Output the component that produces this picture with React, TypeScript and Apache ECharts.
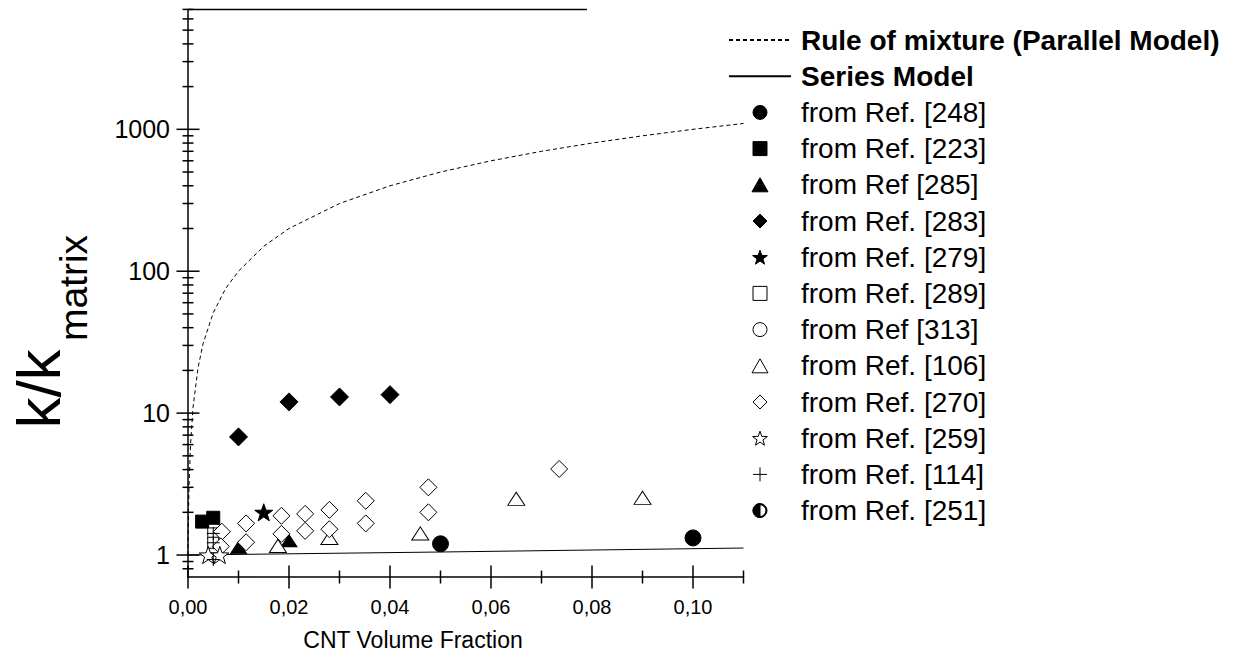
import React, { useEffect, useRef } from 'react';
import * as echarts from 'echarts';

// ---- axis ranges and ticks ----
const xMin = 0;
const xMax = 0.11;
const yMin = 0.7;
const yMax = 7000;
const xMajorTicks = [0, 0.02, 0.04, 0.06, 0.08, 0.1];
const xMinorTicks = [0.01, 0.03, 0.05, 0.07, 0.09, 0.11];
const yMajorTicks = [1, 10, 100, 1000];
const yMinorTicks = [
  0.8, 0.9,
  2, 3, 4, 5, 6, 7, 8, 9,
  20, 30, 40, 50, 60, 70, 80, 90,
  200, 300, 400, 500, 600, 700, 800, 900,
  2000, 3000, 4000, 5000, 6000, 7000,
];

// ---- model curves ----
const parallelModel = [
  [0, 1], [0.0001, 2], [0.0002, 3], [0.0005, 6], [0.001, 11], [0.002, 21], [0.003, 31],
  [0.005, 51], [0.0075, 76], [0.01, 100], [0.015, 150], [0.02, 200], [0.03, 300],
  [0.04, 400], [0.05, 500], [0.06, 600], [0.07, 700], [0.08, 800], [0.09, 900],
  [0.1, 1000], [0.11, 1100],
];
const seriesModel = [[0, 1], [0.05, 1.05], [0.11, 1.12]];
const topLine = [[0, 7000], [0.079, 7000]];

// ---- experimental data ----
const ref248 = [[0.05, 1.2], [0.1, 1.32]];
const ref223 = [[0.0028, 1.72], [0.005, 1.83]];
const ref285 = [[0.01, 1.13], [0.02, 1.26]];
const ref283 = [[0.01, 6.8], [0.02, 12], [0.03, 13], [0.04, 13.5]];
const ref279 = [[0.015, 2.0]];
const ref289 = [[0.005, 1.42], [0.005, 1.22]];
const ref313: number[][] = [];
const ref106 = [[0.0178, 1.16], [0.028, 1.32], [0.046, 1.42], [0.065, 2.49], [0.09, 2.53]];
const ref270 = [
  [0.0067, 1.46], [0.0065, 1.15], [0.0115, 1.67], [0.0115, 1.23], [0.0185, 1.89],
  [0.0185, 1.41], [0.0232, 1.95], [0.0232, 1.48], [0.028, 2.08], [0.028, 1.52],
  [0.0352, 2.41], [0.0352, 1.67], [0.0476, 3.0], [0.0476, 2.0], [0.0735, 4.04],
];
const ref259 = [[0.004, 1.0], [0.0063, 1.0]];
const ref114 = [[0.005, 1.42], [0.005, 1.22], [0.005, 0.93]];
const ref251: number[][] = [];

const legendNames = [
  'Rule of mixture (Parallel Model)',
  'Series Model',
  'from Ref. [248]',
  'from Ref. [223]',
  'from Ref [285]',
  'from Ref. [283]',
  'from Ref. [279]',
  'from Ref. [289]',
  'from Ref [313]',
  'from Ref. [106]',
  'from Ref. [270]',
  'from Ref. [259]',
  'from Ref. [114]',
  'from Ref. [251]',
];

const FONT = '"Liberation Sans", Arial, sans-serif';

function starPath(): string {
  const pts: string[] = [];
  for (let i = 0; i < 10; i++) {
    const r = i % 2 === 0 ? 10 : 4;
    const a = -Math.PI / 2 + (i * Math.PI) / 5;
    pts.push(`${(10 + r * Math.cos(a)).toFixed(3)},${(10 + r * Math.sin(a)).toFixed(3)}`);
  }
  return 'path://M' + pts.join('L') + 'Z';
}
const STAR = starPath();
const PLUS = 'path://M0,5L10,5M5,0L5,10';
const RECT = 'path://M0,0L10,0L10,10L0,10Z';
const TRI = 'path://M0,14L8,0L16,14Z';
const DIAM = 'path://M5,0L10,5L5,10L0,5Z';
const CIRC = 'path://M10,0A10,10 0 1,1 10,20A10,10 0 1,1 10,0Z';
const HALF =
  'path://M10,0A10,10 0 1,1 10,20A10,10 0 1,1 10,0Z' +
  'M10,1.6A8.4,8.4 0 1,0 10,18.4A8.4,8.4 0 1,0 10,1.6Z' +
  'M10,20A10,10 0 0,1 10,0Z';

function tickSeries(data: number[][], horizontal: boolean, half: number) {
  return {
    type: 'custom',
    clip: false,
    silent: true,
    z: 5,
    data,
    renderItem: (_p: any, api: any) => {
      const c = api.coord([api.value(0), api.value(1)]);
      const shape = horizontal
        ? { x1: c[0] - half, y1: c[1], x2: c[0] + half, y2: c[1] }
        : { x1: c[0], y1: c[1] - half, x2: c[0], y2: c[1] + half };
      return { type: 'line', shape, style: { stroke: '#000', lineWidth: 1.5 } };
    },
  };
}

function scatter(name: string, data: number[][], symbol: string, size: any, filled: boolean) {
  return {
    name,
    type: 'scatter',
    data,
    symbol,
    symbolSize: size,
    symbolKeepAspect: true,
    clip: false,
    itemStyle: {
      color: filled ? '#000' : '#fff',
      borderColor: '#000',
      borderWidth: 1,
      opacity: 1,
    },
    z: 3,
  };
}

export default function App() {
  const ref = useRef<HTMLDivElement>(null);
  useEffect(() => {
    if (!ref.current) return;
    const chart = echarts.init(ref.current, undefined, { renderer: 'svg' });
    const isMajorY = (v: number) => yMajorTicks.some((t) => Math.abs(Math.log10(v) - Math.log10(t)) < 1e-6);
    const isMajorX = (v: number) => xMajorTicks.some((t) => Math.abs(v - t) < 1e-9);
    const option: any = {
      animation: false,
      backgroundColor: '#fff',
      grid: { left: 188, top: 9.4, width: 555.5, height: 567.6, containLabel: false },
      xAxis: {
        type: 'value',
        min: xMin,
        max: xMax,
        interval: 0.02,
        axisLine: { show: true, onZero: false, lineStyle: { color: '#000', width: 1.5 } },
        axisTick: { show: false },
        splitLine: { show: false },
        axisLabel: {
          margin: 20,
          color: '#000',
          fontFamily: FONT,
          fontSize: 20,
          showMaxLabel: false,
          formatter: (v: number) => (isMajorX(v) ? v.toFixed(2).replace('.', ',') : ''),
        },
      },
      yAxis: {
        type: 'log',
        logBase: 10,
        min: yMin,
        max: yMax,
        axisLine: { show: true, onZero: false, lineStyle: { color: '#000', width: 1.5 } },
        axisTick: { show: false },
        splitLine: { show: false },
        axisLabel: {
          margin: 18,
          color: '#000',
          fontFamily: FONT,
          fontSize: 25,
          formatter: (v: number) => (isMajorY(v) ? String(Math.round(v)) : ''),
        },
      },
      legend: {
        orient: 'vertical',
        left: 723,
        top: 21,
        itemWidth: 62,
        itemHeight: 14,
        itemGap: 8.2,
        symbolKeepAspect: true,
        textStyle: { fontFamily: FONT, fontSize: 28, color: '#000', padding: [0, 0, 0, 5] },
        itemStyle: { borderWidth: 1 },
        data: legendNames.map((n, i) =>
          i < 2
            ? {
                name: n,
                textStyle: { fontWeight: 'bold' },
                itemStyle: { opacity: 0, color: 'transparent', borderColor: 'transparent', borderWidth: 0 },
              }
            : { name: n }
        ),
      },
      graphic: [
        {
          type: 'text',
          x: 413,
          y: 640,
          style: {
            text: 'CNT Volume Fraction',
            fontFamily: FONT,
            fontSize: 23,
            fill: '#000',
            align: 'center',
            verticalAlign: 'middle',
          },
        },
        {
          type: 'text',
          x: 38,
          y: 389,
          rotation: Math.PI / 2,
          style: {
            text: 'k/k',
            fontFamily: FONT,
            fontSize: 62,
            fill: '#000',
            align: 'center',
            verticalAlign: 'middle',
          },
        },
        {
          type: 'text',
          x: 73,
          y: 288,
          rotation: Math.PI / 2,
          style: {
            text: 'matrix',
            fontFamily: FONT,
            fontSize: 39,
            fill: '#000',
            align: 'center',
            verticalAlign: 'middle',
          },
        },
      ],
      series: [
        {
          name: legendNames[0],
          type: 'line',
          data: parallelModel,
          symbol: 'none',
          clip: false,
          lineStyle: { color: '#000', width: 1, type: [4, 3] },
          itemStyle: { color: '#000' },
          z: 2,
        },
        {
          name: legendNames[1],
          type: 'line',
          data: seriesModel,
          symbol: 'none',
          clip: false,
          lineStyle: { color: '#000', width: 1 },
          itemStyle: { color: '#000' },
          z: 2,
        },
        {
          name: 'top',
          type: 'line',
          data: topLine,
          symbol: 'none',
          clip: false,
          lineStyle: { color: '#000', width: 1.5 },
          z: 2,
        },
        scatter(legendNames[2], ref248, CIRC, 16, true),
        scatter(legendNames[3], ref223, RECT, 13, true),
        scatter(legendNames[4], ref285, TRI, [16, 14], true),
        scatter(legendNames[5], ref283, DIAM, 18, true),
        scatter(legendNames[6], ref279, STAR, 18, true),
        scatter(legendNames[7], ref289, RECT, 11, false),
        scatter(legendNames[8], ref313, CIRC, 12, false),
        scatter(legendNames[9], ref106, TRI, [17, 15], false),
        scatter(legendNames[10], ref270, DIAM, 17, false),
        scatter(legendNames[11], ref259, STAR, 18, false),
        scatter(legendNames[12], ref114, PLUS, 13, true),
        scatter(legendNames[13], ref251, HALF, 13, true),
        tickSeries(xMajorTicks.map((v) => [v, yMin]), false, 11.5),
        tickSeries(xMinorTicks.map((v) => [v, yMin]), false, 6.5),
        tickSeries(yMajorTicks.map((v) => [xMin, v]), true, 11.5),
        tickSeries(yMinorTicks.map((v) => [xMin, v]), true, 5.5),
      ],
    };
    chart.setOption(option);
    return () => chart.dispose();
  }, []);
  return (
    <div
      ref={ref}
      style={{ position: 'absolute', left: 0, top: 0, width: 1240, height: 668, background: '#fff' }}
    />
  );
}
